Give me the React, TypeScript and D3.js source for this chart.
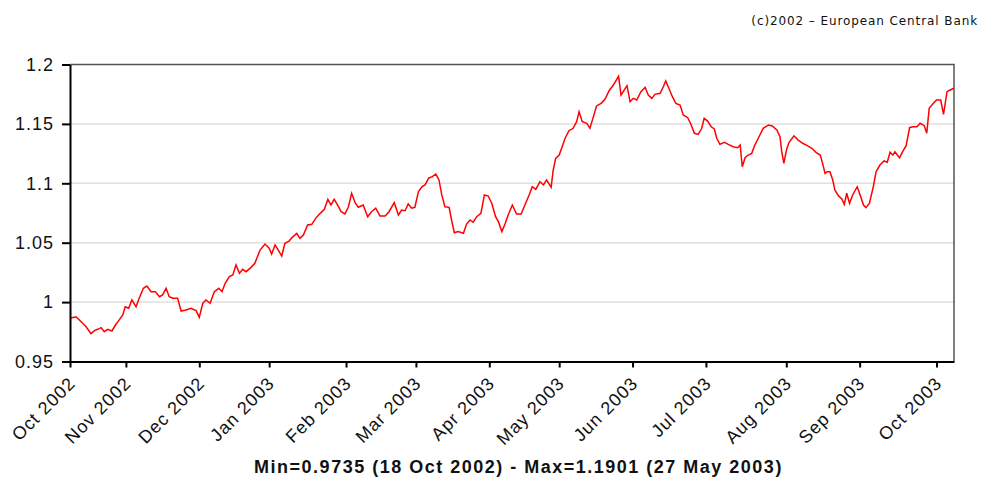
import * as React from "react";
import { useEffect, useRef } from "react";
import * as d3 from "d3";

// x = trading day counted from the first fixing shown (Oct 2002)
const tradingDay = [
  0, 1.7, 2.7, 3.6, 4.6, 6, 7, 7.9, 8.9, 9.8, 10.8, 12, 13, 14.1, 15.1, 15.8, 16.8, 17.7, 18.9, 19.8,
  21, 22, 23.2, 24.4, 25.6, 26.5, 27.5, 28.4, 29.4, 30.8, 31.8, 33.2, 34.6, 36.1, 37, 38, 38.9, 40.1,
  41.3, 42.6, 43.5, 44.4, 45.6, 46.6, 47.5, 48.5, 49.4, 50.4, 51.5, 52.9, 54.4, 55.8, 57, 57.7, 58.7,
  59.6, 60.6, 61.5, 62.7, 63.6, 64.9, 65.8, 66.8, 68, 69.2, 70.3, 71.6, 72.8, 73.8, 74.7, 75.6, 76.6,
  77.6, 78.7, 79.7, 80.6, 81.6, 82.5, 83.9, 85.2, 86.3, 87.5, 88.7, 90.2, 91.3, 92.8, 94, 94.9, 95.9,
  96.8, 97.8, 98.7, 99.7, 100.7, 101.6, 102.7, 103.7, 104.7, 105.6, 106.4, 107.3, 108.5, 109.2, 110,
  111.1, 112.6, 113.5, 114.5, 115.4, 116.4, 117.6, 118.6, 119.7, 120.7, 121.8, 122.6, 123.6, 124.5,
  125.4, 126.6, 127.8, 129.1, 130.2, 131.4, 132.3, 133.3, 134.5, 135.5, 136.4, 137.7, 138.3, 139, 140,
  140.7, 141.7, 142.8, 144, 145, 145.7, 146.6, 147.9, 148.8, 149.8, 150.7, 152, 153.1, 154.3, 155.5,
  157, 157.7, 158.6, 159.4, 160.3, 161.2, 162.2, 163.4, 164.6, 165.5, 166.5, 167.4, 168.9, 169.8,
  170.5, 171.4, 172.4, 173.4, 174.6, 175.5, 176.8, 177.7, 178.7, 179.8, 180.8, 181.5, 182.5, 183.5,
  184.4, 185.1, 186, 187.3, 188.4, 189.8, 191.1, 191.8, 192.4, 193.2, 194.1, 195.1, 196, 197.2, 198.4,
  199.9, 201, 202.3, 203.2, 203.7, 204.3, 205.1, 205.8, 207.2, 208.4, 209.7, 211, 212.3, 213.5, 214.7,
  215.4, 216.1, 216.7, 217.5, 218.3, 218.9, 219.9, 220.9, 221.6, 222.3, 223.1, 224, 225.3, 226.3,
  227.1, 227.8, 228.8, 229.9, 230.7, 231.8, 233, 233.9, 234.7, 235.5, 236.1, 237.4, 238.3, 239.3,
  240.3, 241.2, 242.4, 243.3, 244.5, 245.2, 245.9, 247.1, 248, 249.2, 250, 251, 251.9, 253
];

const eurUsd = [
  0.9864, 0.9877, 0.985, 0.9822, 0.9793, 0.9735, 0.976, 0.9771, 0.9785, 0.9751, 0.9771, 0.9757, 0.9807,
  0.985, 0.9892, 0.9961, 0.9948, 1.0018, 0.9961, 1.0032, 1.0116, 1.0135, 1.0088, 1.0088, 1.0045, 1.006,
  1.0116, 1.0045, 1.0032, 1.0032, 0.9925, 0.9933, 0.9948, 0.9928, 0.9872, 0.999, 1.0018, 0.999, 1.0088,
  1.0116, 1.0088, 1.0158, 1.0214, 1.0228, 1.0312, 1.0242, 1.0276, 1.0256, 1.0284, 1.0327, 1.0438,
  1.0489, 1.0453, 1.0405, 1.0481, 1.0438, 1.0388, 1.0495, 1.0514, 1.0545, 1.0579, 1.0537, 1.0565,
  1.0649, 1.0655, 1.0705, 1.0747, 1.0781, 1.0865, 1.0817, 1.0865, 1.0817, 1.0761, 1.0742, 1.0803,
  1.0916, 1.0837, 1.0798, 1.0817, 1.0719, 1.0761, 1.079, 1.0725, 1.0725, 1.0761, 1.0837, 1.0733,
  1.0775, 1.0769, 1.0826, 1.079, 1.0798, 1.0929, 1.0971, 1.0986, 1.1045, 1.1056, 1.1078, 1.1028,
  1.0902, 1.0803, 1.0798, 1.0691, 1.0584, 1.0593, 1.0579, 1.0657, 1.0691, 1.0672, 1.0719, 1.0747,
  1.0902, 1.0893, 1.0832, 1.0719, 1.0677, 1.0593, 1.0657, 1.0733, 1.0817, 1.0742, 1.0742, 1.0817,
  1.0902, 1.0971, 1.0949, 1.1013, 1.0986, 1.1028, 1.0966, 1.1112, 1.121, 1.1238, 1.1295, 1.1379,
  1.1443, 1.1463, 1.1519, 1.1603, 1.1519, 1.1505, 1.1463, 1.1561, 1.1651, 1.1673, 1.1707, 1.1779,
  1.1827, 1.1901, 1.1743, 1.1785, 1.1822, 1.1687, 1.1715, 1.1701, 1.1771, 1.1808, 1.1743, 1.1715,
  1.1749, 1.1758, 1.1813, 1.1861, 1.18, 1.1729, 1.1673, 1.1659, 1.1575, 1.1552, 1.1497, 1.1421,
  1.1412, 1.1463, 1.1547, 1.1524, 1.1476, 1.1457, 1.1379, 1.1328, 1.1345, 1.1328, 1.1308, 1.13,
  1.1322, 1.114, 1.1215, 1.1238, 1.1252, 1.1322, 1.1392, 1.1463, 1.1491, 1.1482, 1.1449, 1.1392,
  1.1266, 1.1168, 1.1287, 1.1345, 1.14, 1.1364, 1.1337, 1.1317, 1.1295, 1.1261, 1.1238, 1.1168,
  1.1084, 1.1098, 1.1098, 1.1028, 1.0944, 1.0896, 1.0868, 1.0823, 1.0916, 1.0832, 1.0902, 1.0971,
  1.0887, 1.0817, 1.0795, 1.0832, 1.0971, 1.1098, 1.1154, 1.1188, 1.1177, 1.1261, 1.1238, 1.1266,
  1.1215, 1.1266, 1.1317, 1.1468, 1.1476, 1.1476, 1.1505, 1.1485, 1.1421, 1.1631, 1.1673, 1.1701,
  1.1701, 1.1581, 1.1771, 1.1785, 1.18
];

const monthLabels = [
  "Oct 2002", "Nov 2002", "Dec 2002", "Jan 2003", "Feb 2003", "Mar 2003", "Apr 2003",
  "May 2003", "Jun 2003", "Jul 2003", "Aug 2003", "Sep 2003", "Oct 2003"
];
// first trading day of each month
const monthStartDay = [0, 16, 37, 57, 79, 99, 120, 140, 161, 182, 205, 226, 248];
const lastDay = 253;

const yTicks = [0.95, 1, 1.05, 1.1, 1.15, 1.2];
const credit = "(c)2002 \u2013 European Central Bank";
const summary = "Min=0.9735 (18 Oct 2002) - Max=1.1901 (27 May 2003)";

const FONT = "'Liberation Sans', Arial, sans-serif";

function RateChart() {
  const ref = useRef<SVGSVGElement>(null);

  useEffect(() => {
    const width = 983;
    const height = 477;
    const plot = { left: 70, right: 954, top: 64.5, bottom: 361.5 };

    const svg = d3.select(ref.current);
    svg.selectAll("*").remove();
    svg.attr("width", width).attr("height", height);

    const x = d3.scaleLinear().domain([0, lastDay]).range([plot.left, plot.right]);
    const y = d3.scaleLinear().domain([0.95, 1.2]).range([plot.bottom, plot.top]);

    // grid
    svg.append("g")
      .selectAll("line")
      .data(yTicks.filter(t => t > 0.95 && t < 1.2))
      .enter()
      .append("line")
      .attr("x1", plot.left)
      .attr("x2", plot.right)
      .attr("y1", d => y(d))
      .attr("y2", d => y(d))
      .style("stroke", "#e0e0e0")
      .style("stroke-width", 1.5);

    // top and right frame
    svg.append("path")
      .attr("d", `M${plot.left},${plot.top}H${plot.right}V${plot.bottom}`)
      .style("fill", "none")
      .style("stroke", "#555")
      .style("stroke-width", 1.5);

    const line = d3.line<number>()
      .x((d, i) => x(tradingDay[i]))
      .y(d => y(d));

    svg.append("path")
      .datum(eurUsd)
      .attr("d", line)
      .style("fill", "none")
      .style("stroke", "#ff0000")
      .style("stroke-width", 1.5);

    const yAxis = d3.axisLeft(y)
      .tickValues(yTicks)
      .tickFormat(d => String(d))
      .tickSize(8)
      .tickSizeOuter(0)
      .tickPadding(8);

    const gy = svg.append("g")
      .attr("transform", "translate(" + plot.left + ",0)")
      .call(yAxis);

    const xAxis = d3.axisBottom(x)
      .tickValues(monthStartDay)
      .tickFormat((d, i) => monthLabels[i])
      .tickSize(6)
      .tickSizeOuter(0);

    const gx = svg.append("g")
      .attr("transform", "translate(0," + plot.bottom + ")")
      .call(xAxis);

    gx.selectAll("text")
      .attr("x", null)
      .attr("y", null)
      .attr("dy", null)
      .attr("text-anchor", "end")
      .attr("transform", "translate(6,23) rotate(-45)");

    [gx, gy].forEach(g => {
      g.select(".domain").style("stroke", "#000").style("stroke-width", 2);
      g.selectAll(".tick line").style("stroke", "#000").style("stroke-width", 2);
      g.selectAll("text")
        .style("font-family", FONT)
        .style("font-size", "18px")
        .style("letter-spacing", "1px")
        .style("fill", "#111");
    });

    svg.append("text")
      .attr("x", 978)
      .attr("y", 25)
      .attr("text-anchor", "end")
      .style("font-family", "'DejaVu Sans', sans-serif")
      .style("font-size", "12px")
      .style("letter-spacing", "0.9px")
      .style("fill", "#111")
      .text(credit);

    svg.append("text")
      .attr("x", 518.5)
      .attr("y", 473)
      .attr("text-anchor", "middle")
      .style("font-family", FONT)
      .style("font-size", "18px")
      .style("font-weight", "bold")
      .style("letter-spacing", "1.5px")
      .style("fill", "#111")
      .text(summary);
  }, []);

  return <svg ref={ref} style={{ position: "absolute", left: 0, top: 0, background: "#fff" }} />;
}

export default function App() {
  return <RateChart />;
}
